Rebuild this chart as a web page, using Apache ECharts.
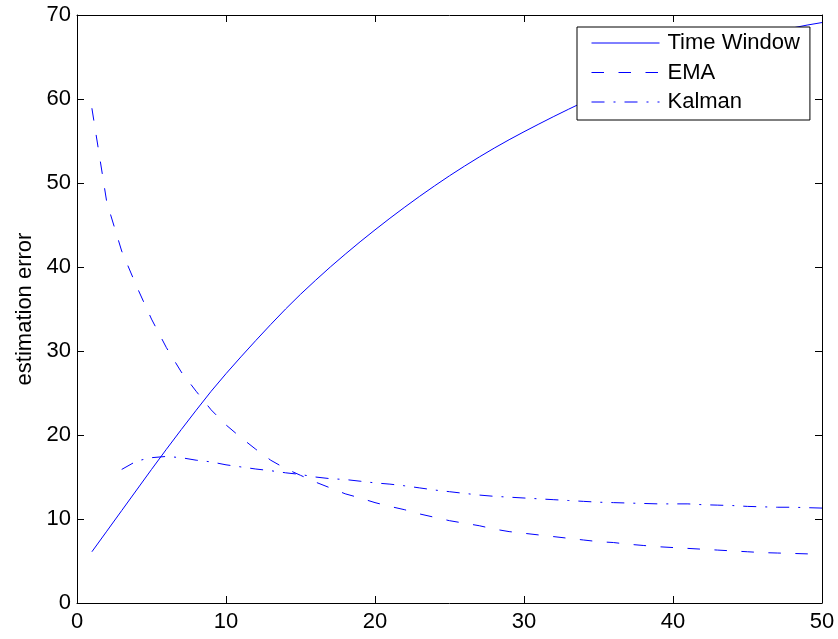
<!DOCTYPE html>
<html>
<head>
<meta charset="utf-8">
<script src="https://cdn.jsdelivr.net/npm/echarts@6/dist/echarts.min.js"></script>
<style>
html,body{margin:0;padding:0;background:#fff;}
#chart{width:838px;height:639px;}
</style>
</head>
<body>
<div id="chart"></div>
<script>
// x positions (sample index)
const xValues = [1,2,3,4,5,6,7,8,9,10,11,12,13,14,15,16,17,18,19,20,21,22,23,24,25,26,27,28,29,30,31,32,33,34,35,36,37,38,39,40,41,42,43,44,45,46,47,48,49,50];
// series values
const timeWindow = [6.1,8.55,11.0,13.45,15.9,18.3,20.65,22.95,25.2,27.3,29.3,31.25,33.15,35.0,36.75,38.4,40.0,41.52,43.0,44.42,45.8,47.13,48.42,49.66,50.86,52.0,53.1,54.15,55.15,56.1,57.02,57.92,58.79,59.64,60.46,61.26,62.03,62.77,63.47,64.14,64.8,65.42,66.02,66.58,67.1,67.6,68.05,68.45,68.8,69.1];
const ema = [58.9,47.7,41.9,37.7,33.8,30.4,27.5,25.2,23.0,21.2,19.7,18.3,17.0,16.0,15.2,14.4,13.7,13.0,12.5,11.95,11.5,11.1,10.6,10.2,9.8,9.5,9.2,8.8,8.5,8.3,8.1,7.9,7.7,7.5,7.3,7.2,7.0,6.85,6.7,6.6,6.5,6.4,6.3,6.2,6.1,6.0,5.95,5.9,5.85,5.8];
const kalman = [null,null,15.9,16.9,17.3,17.45,17.3,17.0,16.8,16.45,16.2,15.95,15.75,15.5,15.3,15.0,14.8,14.7,14.5,14.3,14.15,13.95,13.7,13.45,13.25,13.05,12.85,12.7,12.6,12.5,12.4,12.3,12.2,12.1,12.0,11.95,11.9,11.85,11.8,11.8,11.8,11.7,11.65,11.6,11.5,11.45,11.4,11.4,11.35,11.3];
const seriesNames = ['Time Window','EMA','Kalman'];
const xTicks = {min:0, max:50, interval:10};
const yTicks = {min:0, max:70, interval:10};
const yAxisTitle = 'estimation error';

const FONT = '"Liberation Sans", Arial, Helvetica, sans-serif';
const BLUE = '#0000ff';
const dashTypes = ['solid', [12.5,14.5], [13,9,2,9]];
function pairs(vals){ return xValues.map((x,i)=> vals[i]==null ? null : [x, vals[i]]).filter(p=>p); }

const axisCommon = {
  axisLine:{show:true, onZero:false, lineStyle:{color:'#000', width:1}},
  axisTick:{show:true, inside:true, length:7, lineStyle:{color:'#000', width:1}},
  splitLine:{show:false}
};

const chart = echarts.init(document.getElementById('chart'), null, {renderer:'canvas'});
chart.setOption({
  animation:false,
  backgroundColor:'#fff',
  grid:{left:77, right:16, top:15, bottom:36, containLabel:false},
  xAxis:[
    Object.assign({type:'value', position:'bottom', min:xTicks.min, max:xTicks.max, interval:xTicks.interval,
      axisLabel:{show:true, color:'#000', fontSize:22, fontFamily:FONT, margin:8}}, axisCommon),
    Object.assign({type:'value', position:'top', min:xTicks.min, max:xTicks.max, interval:xTicks.interval,
      axisLabel:{show:false}}, axisCommon)
  ],
  yAxis:[
    Object.assign({type:'value', position:'left', min:yTicks.min, max:yTicks.max, interval:yTicks.interval,
      name:yAxisTitle, nameLocation:'middle', nameGap:37, nameRotate:90,
      nameTextStyle:{color:'#000', fontSize:22, fontFamily:FONT},
      axisLabel:{show:true, color:'#000', fontSize:22, fontFamily:FONT, margin:6}}, axisCommon),
    Object.assign({type:'value', position:'right', min:yTicks.min, max:yTicks.max, interval:yTicks.interval,
      axisLabel:{show:false}}, axisCommon)
  ],
  legend:{
    show:true, orient:'vertical', left:577, top:27,
    padding:[5,10,7,14], itemGap:7.5, itemWidth:68, itemHeight:21,
    backgroundColor:'#fff', borderColor:'#000', borderWidth:1,
    itemStyle:{opacity:0},
    textStyle:{color:'#000', fontSize:22, fontFamily:FONT, padding:[0,0,0,3]},
    data:seriesNames.map((n,i)=>({name:n, lineStyle:{color:BLUE, width:1, type:dashTypes[i], opacity:1}}))
  },
  series:seriesNames.map((n,i)=>({
    name:n, type:'line', data:pairs([timeWindow, ema, kalman][i]), symbol:'none',
    lineStyle:{color:BLUE, width:1, type:dashTypes[i]}, itemStyle:{color:BLUE}
  }))
});
</script>
</body>
</html>
